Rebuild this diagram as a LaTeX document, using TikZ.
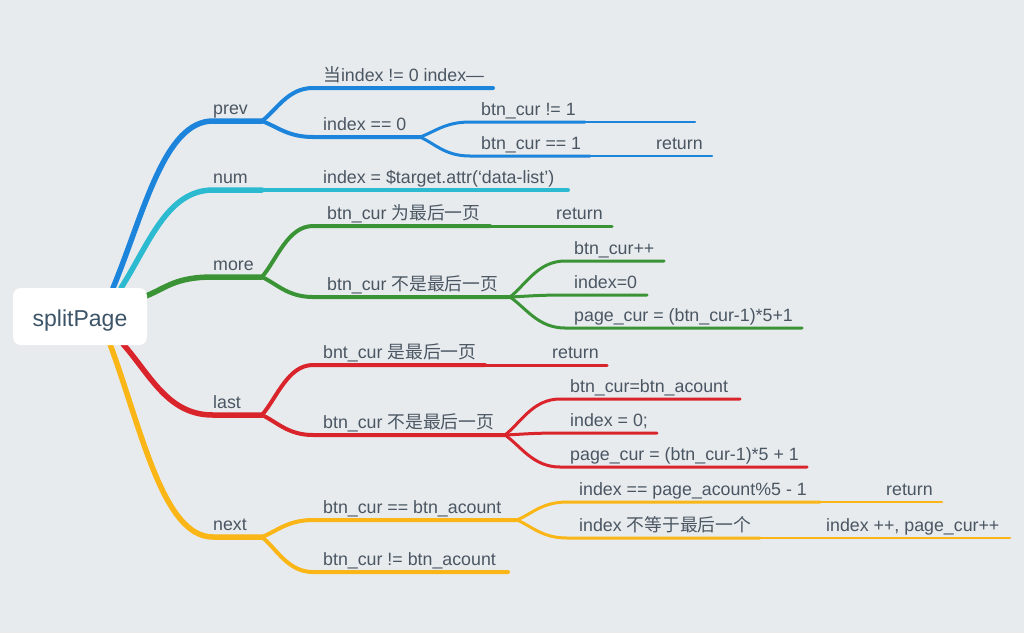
\documentclass[tikz,border=0pt]{standalone}
\usepackage{fontspec}
\setmainfont{Liberation Sans}
\newfontfamily\cjk{Noto Sans CJK SC}
\definecolor{bg}{RGB}{232,235,238}
\definecolor{cblue}{RGB}{28,132,218}
\definecolor{ccyan}{RGB}{44,186,208}
\definecolor{cgreen}{RGB}{58,148,54}
\definecolor{cred}{RGB}{218,36,44}
\definecolor{cyel}{RGB}{250,182,22}
\definecolor{txtc}{RGB}{74,86,98}
\definecolor{rootc}{RGB}{60,84,104}
\tikzset{
  lva/.style={line width=5.5pt, line cap=round},
  lvb/.style={line width=4pt, line cap=round},
  lvc/.style={line width=3pt, line cap=round},
  lvd/.style={line width=2.5pt, line cap=round},
  txt/.style={anchor=base west, inner sep=0pt, text=txtc, font=\fontsize{17.8pt}{20pt}\selectfont},
}
\begin{document}
\begin{tikzpicture}[x=1pt,y=-1pt]
\path[use as bounding box, fill=bg] (0,0) rectangle (1024,633);
% ---------- coordinates ----------
\coordinate (r-prev) at (113,288);
\coordinate (r-num) at (121,288);
\coordinate (r-more) at (146,296);
\coordinate (r-last) at (123,344);
\coordinate (r-next) at (110,344);
\coordinate (prev-s) at (213,121); \coordinate (prev-e) at (262,121);
\coordinate (num-s) at (213,190);  \coordinate (num-e) at (262,190);
\coordinate (more-s) at (213,277); \coordinate (more-e) at (262,277);
\coordinate (last-s) at (213,415); \coordinate (last-e) at (262,415);
\coordinate (next-s) at (213,537); \coordinate (next-e) at (262,537);
\coordinate (p1-s) at (313,88);  \coordinate (p1-e) at (493,88);
\coordinate (p2-s) at (313,137); \coordinate (p2-e) at (420,137);
\coordinate (p21-s) at (470,122); \coordinate (p21-e) at (585,122); \coordinate (p211-e) at (695,122);
\coordinate (p22-s) at (470,156); \coordinate (p22-e) at (590,156); \coordinate (p221-e) at (712,156);
\coordinate (n0-e) at (568,190);
\coordinate (m1-s) at (313,226); \coordinate (m1-e) at (490,226); \coordinate (m11-e) at (612,226);
\coordinate (m2-s) at (313,297); \coordinate (m2-e) at (510,297);
\coordinate (m21-s) at (565,261); \coordinate (m21-e) at (664,261);
\coordinate (m22-s) at (565,295); \coordinate (m22-e) at (647,295);
\coordinate (m23-s) at (565,328); \coordinate (m23-e) at (802,328);
\coordinate (l1-s) at (313,365); \coordinate (l1-e) at (485,365); \coordinate (l11-e) at (607,365);
\coordinate (l2-s) at (313,435); \coordinate (l2-e) at (505,435);
\coordinate (l21-s) at (560,399); \coordinate (l21-e) at (740,399);
\coordinate (l22-s) at (560,433); \coordinate (l22-e) at (657,433);
\coordinate (l23-s) at (560,467); \coordinate (l23-e) at (807,467);
\coordinate (x1-s) at (313,520); \coordinate (x1-e) at (517,520);
\coordinate (x2-s) at (313,572); \coordinate (x2-e) at (508,572);
\coordinate (x11-s) at (567,502); \coordinate (x11-e) at (820,502); \coordinate (x111-e) at (942,502);
\coordinate (x12-s) at (567,538); \coordinate (x12-e) at (760,538); \coordinate (x121-e) at (1010,538);

% ---------- prev (blue) ----------
\draw[cblue,lva] (r-prev) .. controls +(31,-75) and +(-49,0) .. (prev-s) -- (prev-e);
\draw[cblue,lvb] (prev-e) .. controls +(15,-11.5) and +(-25,0) .. (p1-s) -- (p1-e);
\draw[cblue,lvb] (prev-e) .. controls +(15,5.6) and +(-25,0) .. (p2-s) -- (p2-e);
\draw[cblue,lvc] (p2-e) .. controls +(15,-5.2) and +(-25,0) .. (p21-s) -- (p21-e);
\draw[cblue,lvd] (p21-e) -- (p211-e);
\draw[cblue,lvc] (p2-e) .. controls +(15,6.7) and +(-25,0) .. (p22-s) -- (p22-e);
\draw[cblue,lvd] (p22-e) -- (p221-e);
% ---------- num (cyan) ----------
\draw[ccyan,lva] (r-num) .. controls +(28,-44) and +(-46,0) .. (num-s) -- (num-e);
\draw[ccyan,lvb] (num-e) -- (n0-e);
% ---------- more (green) ----------
\draw[cgreen,lva] (r-more) .. controls +(20,-8) and +(-38,0) .. (more-s) -- (more-e);
\draw[cgreen,lvb] (more-e) .. controls +(15,-18) and +(-25,0) .. (m1-s) -- (m1-e);
\draw[cgreen,lvc] (m1-e) -- (m11-e);
\draw[cgreen,lvb] (more-e) .. controls +(15,7) and +(-25,0) .. (m2-s) -- (m2-e);
\draw[cgreen,lvc] (m2-e) .. controls +(16,-12.6) and +(-27,0) .. (m21-s) -- (m21-e);
\draw[cgreen,lvc] (m2-e) .. controls +(16,-0.7) and +(-27,0) .. (m22-s) -- (m22-e);
\draw[cgreen,lvc] (m2-e) .. controls +(16,10.9) and +(-27,0) .. (m23-s) -- (m23-e);
% ---------- last (red) ----------
\draw[cred,lva] (r-last) .. controls +(28,32) and +(-45,0) .. (last-s) -- (last-e);
\draw[cred,lvb] (last-e) .. controls +(15,-17.5) and +(-25,0) .. (l1-s) -- (l1-e);
\draw[cred,lvc] (l1-e) -- (l11-e);
\draw[cred,lvb] (last-e) .. controls +(15,7) and +(-25,0) .. (l2-s) -- (l2-e);
\draw[cred,lvc] (l2-e) .. controls +(16,-12.6) and +(-27,0) .. (l21-s) -- (l21-e);
\draw[cred,lvc] (l2-e) .. controls +(16,-0.7) and +(-27,0) .. (l22-s) -- (l22-e);
\draw[cred,lvc] (l2-e) .. controls +(16,11.2) and +(-27,0) .. (l23-s) -- (l23-e);
% ---------- next (yellow) ----------
\draw[cyel,lva] (r-next) .. controls +(32,87) and +(-50,0) .. (next-s) -- (next-e);
\draw[cyel,lvb] (next-e) .. controls +(15,-6) and +(-25,0) .. (x1-s) -- (x1-e);
\draw[cyel,lvb] (next-e) .. controls +(15,12.3) and +(-25,0) .. (x2-s) -- (x2-e);
\draw[cyel,lvc] (x1-e) .. controls +(15,-6.3) and +(-25,0) .. (x11-s) -- (x11-e);
\draw[cyel,lvd] (x11-e) -- (x111-e);
\draw[cyel,lvc] (x1-e) .. controls +(15,6.3) and +(-25,0) .. (x12-s) -- (x12-e);
\draw[cyel,lvd] (x12-e) -- (x121-e);

% ---------- root ----------
\node[fill=white, rounded corners=8pt, minimum width=134pt, minimum height=57pt, inner sep=0pt] (root) at (80,316.5) {};
\node[text=rootc, font=\fontsize{23pt}{26pt}\selectfont, inner sep=0pt, anchor=base] (root-t) at (80,326) {splitPage};

% ---------- texts ----------
\node[txt] (t-prev) at (213,114.5) {prev};
\node[txt] (t-num) at (213,183.5) {num};
\node[txt] (t-more) at (213,270.5) {more};
\node[txt] (t-last) at (213,408.5) {last};
\node[txt] (t-next) at (213,530.5) {next};

\node[txt] (t-p1) at (323,81.5) {{\cjk 当}index != 0 index—};
\node[txt] (t-p2) at (323,130.5) {index == 0};
\node[txt] (t-p21) at (481,115.5) {btn\_cur != 1};
\node[txt] (t-p22) at (481,149.5) {btn\_cur == 1};
\node[txt] (t-p221) at (656,149.5) {return};

\node[txt] (t-n0) at (323,183.5) {index = \$target.attr(‘data-list’)};

\node[txt] (t-m1) at (327,219.5) {btn\_cur {\cjk 为最后一页}};
\node[txt] (t-m11) at (556,219.5) {return};
\node[txt] (t-m2) at (327,290.5) {btn\_cur {\cjk 不是最后一页}};
\node[txt] (t-m21) at (574,254.5) {btn\_cur++};
\node[txt] (t-m22) at (574,288.5) {index=0};
\node[txt] (t-m23) at (574,321.5) {page\_cur = (btn\_cur-1)*5+1};

\node[txt] (t-l1) at (323,358.5) {bnt\_cur {\cjk 是最后一页}};
\node[txt] (t-l11) at (552,358.5) {return};
\node[txt] (t-l2) at (323,428.5) {btn\_cur {\cjk 不是最后一页}};
\node[txt] (t-l21) at (570,392.5) {btn\_cur=btn\_acount};
\node[txt] (t-l22) at (570,426.5) {index = 0;};
\node[txt] (t-l23) at (570,460.5) {page\_cur = (btn\_cur-1)*5 + 1};

\node[txt] (t-x1) at (323,513.5) {btn\_cur == btn\_acount};
\node[txt] (t-x2) at (323,565.5) {btn\_cur != btn\_acount};
\node[txt] (t-x11) at (579,495.5) {index == page\_acount\%5 - 1};
\node[txt] (t-x111) at (886,495.5) {return};
\node[txt] (t-x12) at (579,531.5) {index {\cjk 不等于最后一个}};
\node[txt] (t-x121) at (826,531.5) {index ++, page\_cur++};
\end{tikzpicture}
\end{document}
